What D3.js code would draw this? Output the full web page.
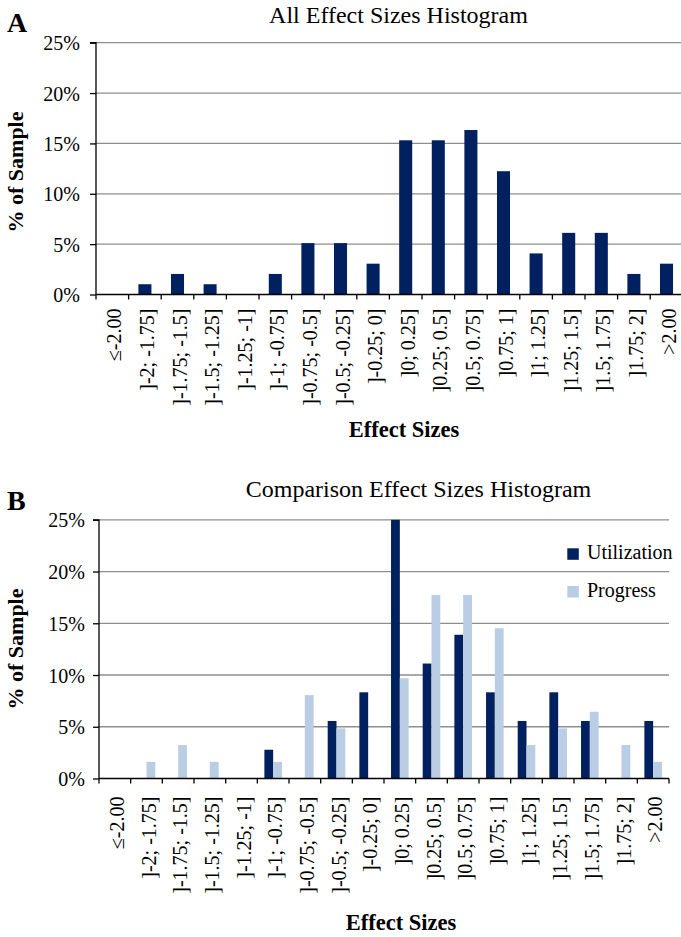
<!DOCTYPE html>
<html>
<head>
<meta charset="utf-8">
<script src="https://cdn.jsdelivr.net/npm/d3@7/dist/d3.min.js"></script>
<style>
  html, body { margin: 0; padding: 0; background: #fff; }
  svg { display: block; font-family: "Liberation Serif", "Times New Roman", serif; }
  svg text { font-family: "Liberation Serif", "Times New Roman", serif; }
</style>
</head>
<body>
<svg id="chart" width="681" height="937"></svg>
<script>
// ---------- DATA ----------
const categories = ["≤-2.00", "]-2; -1.75]", "]-1.75; -1.5]", "]-1.5; -1.25]", "]-1.25; -1]",
  "]-1; -0.75]", "]-0.75; -0.5]", "]-0.5; -0.25]", "]-0.25; 0]", "]0; 0.25]", "]0.25; 0.5]",
  "]0.5; 0.75]", "]0.75; 1]", "]1; 1.25]", "]1.25; 1.5]", "]1.5; 1.75]", "]1.75; 2]", ">2.00"];

// Panel A: all effect sizes (% of sample)
const allValues = [0, 1.02, 2.04, 1.02, 0, 2.04, 5.10, 5.10, 3.06, 15.31, 15.31, 16.33, 12.24, 4.08, 6.12, 6.12, 2.04, 3.06];

// Panel B: comparison (% of sample)
const seriesNames = ["Utilization", "Progress"];
const utilizationValues = [0, 0, 0, 0, 0, 2.78, 0, 5.56, 8.33, 25.0, 11.11, 13.89, 8.33, 5.56, 8.33, 5.56, 0, 5.56];
const progressValues = [0, 1.61, 3.23, 1.61, 0, 1.61, 8.06, 4.84, 0, 9.68, 17.74, 17.74, 14.52, 3.23, 4.84, 6.45, 3.23, 1.61];

const yTicks = [0, 5, 10, 15, 20, 25];
const yTickLabels = ["0%", "5%", "10%", "15%", "20%", "25%"];

const colors = { Utilization: "#002060", Progress: "#b9cde5", All: "#002060" };

// ---------- DRAW ----------
const svg = d3.select("#chart");

function drawPanel(opt) {
  const g = svg.append("g");
  const x = d3.scaleBand().domain(categories).range([opt.left, opt.right]).padding(0);
  const y = d3.scaleLinear().domain([0, 25]).range([opt.bottom, opt.top]);
  const inner = d3.scaleBand().domain(opt.series.map(s => s.name))
    .range([0, x.bandwidth()]).paddingInner(0).paddingOuter(opt.outerPad);

  g.append("g").selectAll("line").data(yTicks.filter(t => t > 0)).join("line")
    .attr("x1", opt.left).attr("x2", opt.gridRight)
    .attr("y1", d => y(d)).attr("y2", d => y(d))
    .attr("stroke", "#8e8e8e").attr("stroke-width", 1.3);

  opt.series.forEach(s => {
    g.append("g").selectAll("rect").data(categories.map((c, i) => ({ c, v: s.values[i] })))
      .join("rect")
      .attr("x", d => x(d.c) + inner(s.name))
      .attr("width", inner.bandwidth())
      .attr("y", d => y(d.v))
      .attr("height", d => y(0) - y(d.v))
      .attr("fill", colors[s.name]);
  });

  const yAxis = d3.axisLeft(y).tickValues(yTicks).tickSize(6)
    .tickFormat((d, i) => yTickLabels[i]);
  const ya = g.append("g").attr("transform", `translate(${opt.left},0)`).call(yAxis)
    .attr("font-family", null).attr("font-size", null);
  ya.select(".domain").attr("stroke", "#000").attr("stroke-width", 1.3).attr("d", `M-6,${opt.top}H0V${opt.bottom}`);
  ya.selectAll(".tick line").attr("stroke", "#000").attr("stroke-width", 1.3);
  ya.selectAll(".tick text").attr("x", -opt.yLabelGap).attr("dy", "0.35em")
    .style("font-size", "20px").attr("fill", "#000");

  const xAxisG = g.append("g");
  xAxisG.append("line").attr("x1", opt.left).attr("x2", opt.gridRight)
    .attr("y1", opt.bottom).attr("y2", opt.bottom).attr("stroke", "#000").attr("stroke-width", 1.3);
  const bounds = categories.map(c => x(c)).concat([x(categories[categories.length - 1]) + x.bandwidth()]);
  xAxisG.selectAll("line.t").data(bounds).join("line").attr("class", "t")
    .attr("x1", d => d).attr("x2", d => d)
    .attr("y1", opt.bottom).attr("y2", opt.bottom + 5)
    .attr("stroke", "#000").attr("stroke-width", 1.3);
  xAxisG.selectAll("text").data(categories).join("text")
    .attr("class", "xl")
    .attr("transform", d => `translate(${x(d) + x.bandwidth() / 2 + opt.labelShift},${opt.bottom + opt.xLabelGap}) rotate(-90)`)
    .attr("text-anchor", "end").attr("dy", "0.35em")
    .style("font-size", "20px").text(d => d);

  svg.append("text").attr("x", opt.titleX).attr("y", opt.titleY).attr("text-anchor", "middle")
    .style("font-size", "24px").text(opt.title);
  svg.append("text").attr("x", 7).attr("y", opt.letterY)
    .style("font-size", "28px").style("font-weight", "bold").text(opt.letter);
  svg.append("text").attr("transform", `translate(23,${opt.yTitleY}) rotate(-90)`)
    .attr("text-anchor", "middle").style("font-size", "22px").style("font-weight", "bold").text("% of Sample");
  svg.append("text").attr("x", opt.xTitleX).attr("y", opt.xTitleY).attr("text-anchor", "middle")
    .style("font-size", "22.5px").style("font-weight", "bold").text("Effect Sizes");
  return { x, y };
}

drawPanel({
  left: 96, right: 682.8, gridRight: 682.8, top: 42.7, bottom: 294.5,
  series: [{ name: "All", values: allValues }], outerPad: 0.75,
  yLabelGap: 16, xLabelGap: 14, labelShift: 2,
  title: "All Effect Sizes Histogram", titleX: 398.5, titleY: 23,
  letter: "A", letterY: 32, yTitleY: 172, xTitleX: 404, xTitleY: 437
});

drawPanel({
  left: 99, right: 669, gridRight: 669, top: 519.8, bottom: 778.5,
  series: [{ name: "Utilization", values: utilizationValues }, { name: "Progress", values: progressValues }],
  outerPad: 0.8,
  yLabelGap: 14, xLabelGap: 18, labelShift: 2,
  title: "Comparison Effect Sizes Histogram", titleX: 418.5, titleY: 497,
  letter: "B", letterY: 510, yTitleY: 649, xTitleX: 401, xTitleY: 930
});

const legend = svg.append("g");
const legendY = [548.3, 586];
seriesNames.forEach((n, i) => {
  legend.append("rect").attr("x", 567.3).attr("y", legendY[i]).attr("width", 11.5).attr("height", 11.5)
    .attr("fill", colors[n]);
  legend.append("text").attr("x", 587).attr("y", legendY[i] + 10.5)
    .style("font-size", "20px").text(n);
});
</script>
</body>
</html>
